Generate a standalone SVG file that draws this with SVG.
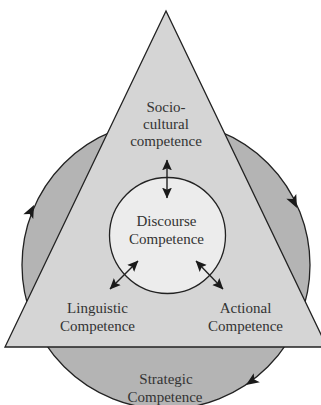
<svg xmlns="http://www.w3.org/2000/svg" width="321" height="405" viewBox="0 0 321 405">
<style>
.lbl{font-family:"Liberation Serif","Times New Roman",serif;font-size:15px;fill:#333;text-anchor:middle}
.edge{stroke:#222;stroke-width:1.4;fill:none}
</style>
<defs>
<marker id="dh" viewBox="0 0 10 10" refX="9.5" refY="5" markerWidth="11" markerHeight="11" markerUnits="userSpaceOnUse" orient="auto-start-reverse">
<path d="M0,0.5 L10,5 L0,9.5 L2,5 Z" fill="#1a1a1a"/>
</marker>
<path id="ah" d="M0,0 L-13,-5.5 L-10,0 L-13,5.5 Z" fill="#1a1a1a"/>
</defs>
<rect width="321" height="405" fill="#fff"/>
<g id="strategic">
<circle cx="166" cy="265" r="144" fill="#b4b4b4" stroke="#222" stroke-width="1.3"/>
<use href="#ah" transform="translate(34,205) rotate(-64)"/>
<use href="#ah" transform="translate(297,208) rotate(64)"/>
<use href="#ah" transform="translate(246,385) rotate(146)"/>
<text class="lbl" x="166" y="384">Strategic</text>
<text class="lbl" x="165" y="402">Competence</text>
</g>
<g id="triangle">
<polygon points="166,11 5,347 327,347" fill="#d5d5d5" stroke="#222" stroke-width="1.3"/>
</g>
<g id="sociocultural">
<text class="lbl" x="166" y="112">Socio-</text>
<text class="lbl" x="166" y="129">cultural</text>
<text class="lbl" x="166" y="146">competence</text>
</g>
<g id="linguistic">
<text class="lbl" x="97.5" y="313">Linguistic</text>
<text class="lbl" x="97.5" y="331">Competence</text>
</g>
<g id="actional">
<text class="lbl" x="245.5" y="313">Actional</text>
<text class="lbl" x="245.5" y="331">Competence</text>
</g>
<g id="discourse">
<circle cx="167.5" cy="235.5" r="58" fill="#ececec" stroke="#222" stroke-width="1.3"/>
<text class="lbl" x="166.5" y="226">Discourse</text>
<text class="lbl" x="166.5" y="244">Competence</text>
</g>
<g id="connectors">
<line class="edge" x1="167" y1="160" x2="167" y2="198" marker-start="url(#dh)" marker-end="url(#dh)"/>
<line class="edge" x1="138" y1="261" x2="110" y2="289" marker-start="url(#dh)" marker-end="url(#dh)"/>
<line class="edge" x1="196" y1="261" x2="223" y2="289" marker-start="url(#dh)" marker-end="url(#dh)"/>
</g>
</svg>
